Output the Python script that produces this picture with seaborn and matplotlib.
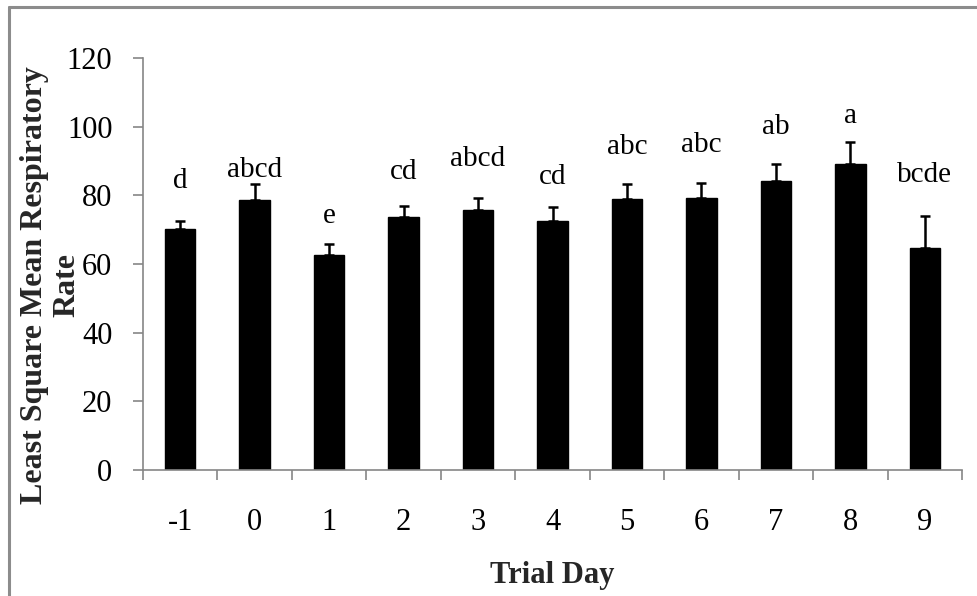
import matplotlib
matplotlib.use("Agg")
import matplotlib.pyplot as plt
import seaborn as sns
import numpy as np
import pandas as pd
from matplotlib.lines import Line2D

days = ["-1", "0", "1", "2", "3", "4", "5", "6", "7", "8", "9"]
means = [70.2, 78.5, 62.5, 73.7, 75.6, 72.6, 78.9, 79.3, 84.1, 89.0, 64.7]
err_tops = [72.5, 83.3, 65.7, 76.9, 79.1, 76.5, 83.3, 83.6, 89.2, 95.4, 74.1]
letters = ["d", "abcd", "e", "cd", "abcd", "cd", "abc", "abc", "ab", "a", "bcde"]
letter_y = [82.0, 85.4, 72.0, 84.7, 88.6, 83.4, 92.0, 92.5, 97.8, 101.2, 84.0]
yticks = [0, 20, 40, 60, 80, 100, 120]

sns.set_theme(style="white")
plt.rcParams["font.family"] = ["Liberation Serif", "DejaVu Serif"]

df = pd.DataFrame({"day": days, "mean": means})
W, H = 978, 596
fig = plt.figure(figsize=(W / 100, H / 100), dpi=100)
ax = fig.add_axes([143 / W, 1 - 470 / H, (962 - 143) / W, (470 - 58) / H])

sns.barplot(data=df, x="day", y="mean", color="black", width=0.41,
            saturation=1, ax=ax, errorbar=None, edgecolor="black")

x = np.arange(len(days))
up = np.array(err_tops) - np.array(means)
ax.errorbar(x, means, yerr=[np.zeros_like(up), up], fmt="none",
            ecolor="black", elinewidth=1.8, capsize=3.6, capthick=1.8)

for xi, lab, ly in zip(x, letters, letter_y):
    ax.text(xi, ly, lab, ha="center", va="baseline", fontsize=21, color="black")

ax.set_ylim(0, 120)
ax.set_xlim(-0.5, len(days) - 0.5)
ax.set_yticks(yticks)
ax.set_yticklabels([str(t) for t in yticks], fontsize=22)
ax.set_xticks(x)
ax.set_xticklabels(days, fontsize=22)
ax.set_xticks(np.arange(-0.5, len(days), 1.0), minor=True)

gray = "#868686"
for s in ["top", "right"]:
    ax.spines[s].set_visible(False)
for s in ["left", "bottom"]:
    ax.spines[s].set_color(gray)
    ax.spines[s].set_linewidth(1.2)

ax.tick_params(axis="x", which="both", bottom=True, top=False)
ax.tick_params(axis="y", which="both", left=True, right=False)
ax.tick_params(axis="x", which="major", length=0, pad=27, colors="black")
ax.tick_params(axis="x", which="minor", length=7, width=1.2, color=gray, direction="out")
ax.tick_params(axis="y", which="major", length=7, width=1.2, color=gray, direction="out",
               pad=15, labelcolor="black")
ax.grid(False)

ax.set_xlabel("Trial Day", fontsize=22, fontweight="bold", labelpad=18)
ax.set_ylabel("Least Square Mean Respiratory", fontsize=23, fontweight="bold")
ax.yaxis.set_label_coords((49 - 143) / 819, (470 - 285) / 412)
ax.text((81 - 143) / 819, (470 - 285) / 412, "Rate", transform=ax.transAxes,
        rotation=90, rotation_mode="anchor", ha="center", va="bottom",
        fontsize=23, fontweight="bold")

fig.add_artist(Line2D([9 / W, 9 / W], [0, 1 - 7 / H], color="#8c8c8c", lw=2.2,
                      transform=fig.transFigure))
fig.add_artist(Line2D([9 / W, 1], [1 - 7 / H, 1 - 7 / H], color="#8c8c8c", lw=2.2,
                      transform=fig.transFigure))

fig.savefig("out.png", dpi=100)
